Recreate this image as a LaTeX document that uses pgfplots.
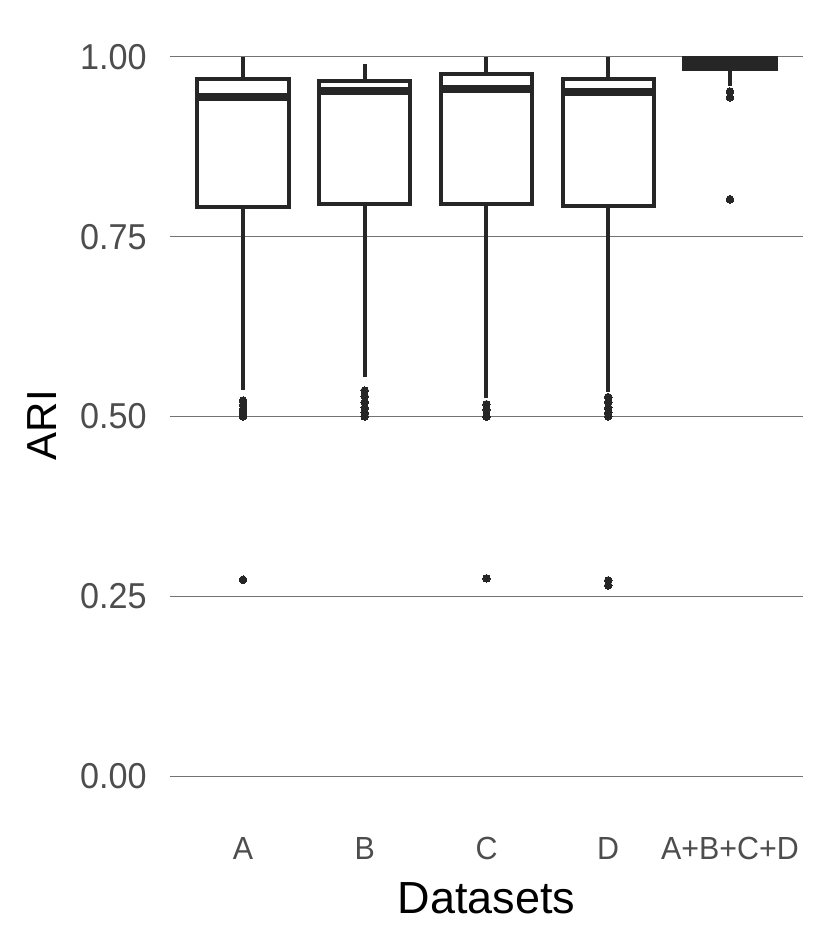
\documentclass[border=0pt]{standalone}
\usepackage{fontspec}
\setmainfont{Liberation Sans}
\newfontfamily\tickfont[FakeStretch=0.95]{Liberation Sans}
\usepackage{pgfplots}
\pgfplotsset{compat=1.18}
\usepgfplotslibrary{statistics}
\definecolor{boxc}{HTML}{262626}
\definecolor{tickc}{HTML}{4D4D4D}
\begin{document}
\begin{tikzpicture}
\path[use as bounding box] (-85pt,-66pt) rectangle (328pt,406pt);
\begin{axis}[
  scale only axis, width=316.5pt, height=395.5pt,
  at={(0,0)}, anchor=south west,
  xmin=0.4, xmax=5.6, ymin=-0.05, ymax=1.05,
  boxplot/draw direction=y,
  axis line style={draw=none},
  major tick length=0pt, tick style={draw=none},
  ytick={0,0.25,0.5,0.75,1},
  xtick={1,2,3,4,5},
  xticklabels={A,B,C,D,A+B+C+D},
  ymajorgrids, grid style={black!55, line width=0.5pt},
  /pgf/number format/assume math mode=true,
  y tick label style={/pgf/number format/fixed,/pgf/number format/fixed zerofill,/pgf/number format/precision=2},
  tick label style={text=tickc, inner sep=0pt},
  yticklabel style={anchor=east, xshift=-11.5pt, font=\tickfont\fontsize{18}{21}\selectfont},
  xticklabel style={anchor=north, yshift=-12.3pt, font=\tickfont\fontsize{16}{19}\selectfont},
  xlabel={Datasets}, ylabel={ARI},
  label style={text=black},
  xlabel style={at={([yshift=-43pt]axis description cs:0.5,0)}, anchor=center, font=\fontsize{22.5}{27}\selectfont},
  ylabel style={at={([xshift=-64pt]axis description cs:0,0.489)}, anchor=center, font=\fontsize{21}{25}\selectfont},
  clip=false,
]
\pgfplotsset{
  bx/.style={draw=boxc, fill=white, line width=2pt, mark=*, mark size=1.9pt,
    mark options={fill=boxc, draw=boxc, line width=0pt}},
}
\addplot[bx, boxplot prepared={draw position=1, lower whisker=0.537, lower quartile=0.792, median=0.944, upper quartile=0.969, upper whisker=1.0, box extend=0.75, whisker extend=0, every median/.style={line width=4pt}}]
  table[row sep=\\, y index=0] {0.273\\0.500\\0.505\\0.510\\0.516\\0.522\\};
\addplot[bx, boxplot prepared={draw position=2, lower whisker=0.555, lower quartile=0.796, median=0.952, upper quartile=0.967, upper whisker=0.990, box extend=0.75, whisker extend=0, every median/.style={line width=4pt}}]
  table[row sep=\\, y index=0] {0.500\\0.505\\0.512\\0.520\\0.528\\0.536\\};
\addplot[bx, boxplot prepared={draw position=3, lower whisker=0.526, lower quartile=0.795, median=0.955, upper quartile=0.976, upper whisker=1.0, box extend=0.75, whisker extend=0, every median/.style={line width=4pt}}]
  table[row sep=\\, y index=0] {0.275\\0.500\\0.510\\0.517\\};
\addplot[bx, boxplot prepared={draw position=4, lower whisker=0.534, lower quartile=0.793, median=0.951, upper quartile=0.969, upper whisker=1.0, box extend=0.75, whisker extend=0, every median/.style={line width=4pt}}]
  table[row sep=\\, y index=0] {0.265\\0.272\\0.500\\0.505\\0.512\\0.520\\0.527\\};
\addplot[bx, boxplot prepared={draw position=5, lower whisker=0.959, lower quartile=0.983, median=0.992, upper quartile=0.999, upper whisker=1.0, box extend=0.75, whisker extend=0, every median/.style={line width=4pt}}]
  table[row sep=\\, y index=0] {0.802\\0.944\\0.952\\};
\end{axis}
\end{tikzpicture}
\end{document}
